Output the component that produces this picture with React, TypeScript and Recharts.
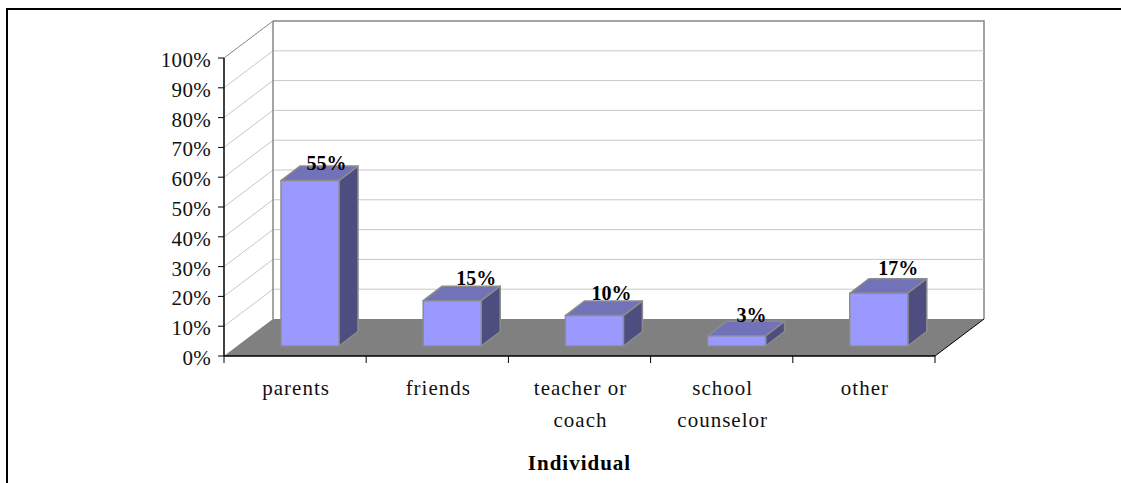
import { BarChart, Bar, XAxis, YAxis, LabelList, usePlotArea } from "recharts";

const categories = ["parents", "friends", "teacher or coach", "school counselor", "other"];
const tickLines: Record<string, string[]> = {
  parents: ["parents"],
  friends: ["friends"],
  "teacher or coach": ["teacher or", "coach"],
  "school counselor": ["school", "counselor"],
  other: ["other"],
};
const values = [55.5, 15.2, 10.2, 3.4, 17.7];
const valueLabels = ["55%", "15%", "10%", "3%", "17%"];
const yTicks = [0, 10, 20, 30, 40, 50, 60, 70, 80, 90, 100];

const chartData = categories.map((name, i) => ({ name, value: values[i], label: valueLabels[i] }));

const FONT = "'Liberation Serif', serif";
const DEPTH_X = 49;
const DEPTH_Y = 37;
const BAR_DX = 15;
const BAR_DY = 10;
const BAR_DEPTH_X = 19;
const BAR_DEPTH_Y = 14.5;
// the data labels sit a little unevenly on the boxes
const labelNudgeX = [31.5, 39, 32, 30, 34.5];
const labelNudgeY = [21, 26, 26, 24, 28];

// back wall, floor, slanted gridlines and the category separators
function Walls() {
  const area = usePlotArea();
  if (!area) return null;
  const { x, y, width, height } = area;
  const bottom = y + height;
  const right = x + width;
  return (
    <g>
      <path d={`M${x} ${y}L${x + DEPTH_X} ${y - DEPTH_Y}`} fill="none" stroke="#868686" strokeWidth={1} />
      <path d={`M${x + DEPTH_X} ${y - DEPTH_Y}L${right + DEPTH_X} ${y - DEPTH_Y}L${right + DEPTH_X} ${bottom - DEPTH_Y}`} fill="none" stroke="#868686" strokeWidth={1.5} />
      {yTicks.slice(1, -1).map((t) => {
        const gy = bottom - (t / 100) * height;
        return (
          <path
            key={t}
            d={`M${x} ${gy}L${x + DEPTH_X} ${gy - DEPTH_Y}L${right + DEPTH_X} ${gy - DEPTH_Y}`}
            fill="none"
            stroke="#c8c8c8"
            strokeWidth={1}
          />
        );
      })}
      <line x1={x + DEPTH_X} x2={x + DEPTH_X} y1={y - DEPTH_Y} y2={bottom - DEPTH_Y} stroke="#868686" strokeWidth={1.5} />
      <path
        d={`M${x} ${bottom}L${x + DEPTH_X} ${bottom - DEPTH_Y}L${right + DEPTH_X} ${bottom - DEPTH_Y}L${right} ${bottom}Z`}
        fill="#808080"
      />
      <line x1={right} y1={bottom} x2={right + DEPTH_X} y2={bottom - DEPTH_Y} stroke="#000" strokeWidth={1} />
      {[0, 1, 2, 3, 4, 5].map((i) => {
        const tx = x + (i * width) / categories.length;
        return <line key={i} x1={tx} x2={tx} y1={bottom} y2={bottom + 7} stroke="#000" strokeWidth={1} />;
      })}
    </g>
  );
}

function Box(props: any) {
  const { x, y, width, height } = props;
  const l = x + BAR_DX;
  const t = y - BAR_DY;
  const r = l + width;
  const b = t + height;
  const dx = BAR_DEPTH_X;
  const dy = BAR_DEPTH_Y;
  return (
    <g stroke="#8c8c8c" strokeWidth={1.5} strokeLinejoin="round">
      <path d={`M${l} ${t}L${l + dx} ${t - dy}L${r + dx} ${t - dy}L${r} ${t}Z`} fill="#7272b8" />
      <path d={`M${r} ${t}L${r + dx} ${t - dy}L${r + dx} ${b - dy}L${r} ${b}Z`} fill="#4d4d80" />
      <rect x={l} y={t} width={width} height={height} fill="#9999ff" />
    </g>
  );
}

function ValueLabel(props: any) {
  const { x, y, width, value, index } = props;
  return (
    <text x={x + width / 2 + labelNudgeX[index]} y={y - labelNudgeY[index]} textAnchor="middle" fontFamily={FONT} fontSize={20} fontWeight="bold" fill="#000">
      {value}
    </text>
  );
}

function CategoryTick(props: any) {
  const { x, y, payload } = props;
  const lines = tickLines[payload.value] || [payload.value];
  return (
    <g>
      {lines.map((line, i) => (
        <text key={line} x={x + 1} y={y + 27 + i * 32} textAnchor="middle" fontFamily={FONT} fontSize={21} letterSpacing={1} fill="#111">
          {line}
        </text>
      ))}
    </g>
  );
}

function PercentTick(props: any) {
  const { x, y, payload } = props;
  return (
    <text x={x - 5} y={y + 9} textAnchor="end" fontFamily={FONT} fontSize={21} letterSpacing={0.3} fill="#111">
      {payload.value}%
    </text>
  );
}

export default function App() {
  return (
    <div
      style={{
        position: "absolute",
        left: 0,
        top: 0,
        width: 1121,
        height: 483,
        background: "#fff",
        overflow: "hidden",
      }}
    >
      <div
        style={{
          position: "absolute",
          left: 6,
          top: 8,
          width: 1115,
          height: 490,
          borderLeft: "2px solid #000",
          borderTop: "2px solid #000",
          boxSizing: "border-box",
        }}
      />
      <div style={{ position: "absolute", left: 0, top: 0 }}>
        <BarChart
          width={1121}
          height={483}
          data={chartData}
          margin={{ top: 58, right: 186, bottom: 0, left: 0 }}
          barSize={58}
        >
          <Walls />
          <XAxis
            dataKey="name"
            interval={0}
            height={127}
            tick={CategoryTick}
            tickSize={10}
            axisLine={{ stroke: "#000", strokeWidth: 1.5 }}
            tickLine={false}
            label={{ value: "Individual", position: "insideBottom", offset: 13, fontFamily: FONT, fontSize: 21, fontWeight: "bold", letterSpacing: 1, fill: "#000" }}
          />
          <YAxis
            width={224}
            domain={[0, 100]}
            ticks={yTicks}
            interval={0}
            tick={PercentTick}
            tickSize={6}
            axisLine={{ stroke: "#000", strokeWidth: 1.5 }}
            tickLine={{ stroke: "#000", strokeWidth: 1 }}
          />
          <Bar dataKey="value" shape={Box} isAnimationActive={false}>
            <LabelList dataKey="label" content={ValueLabel} />
          </Bar>
        </BarChart>
      </div>
    </div>
  );
}
